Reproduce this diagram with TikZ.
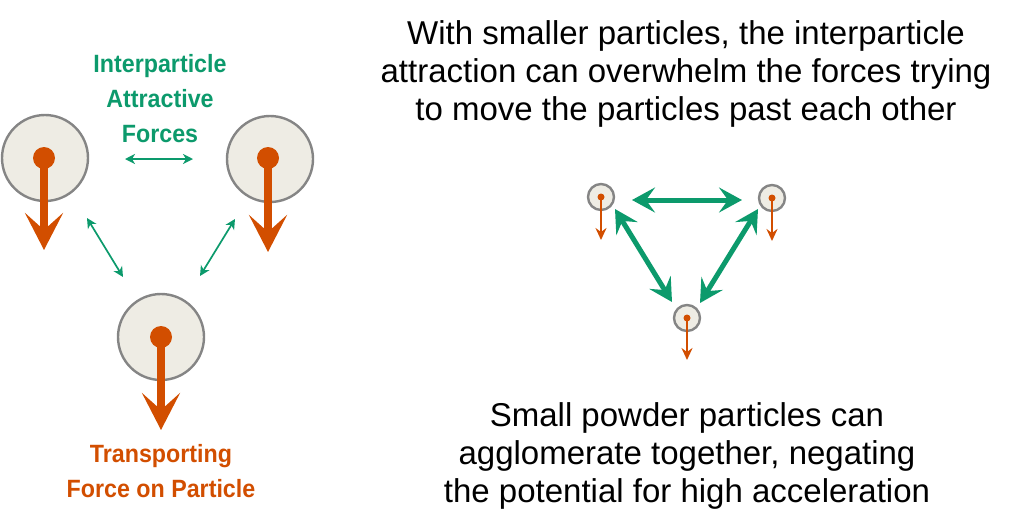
\documentclass[tikz,border=0pt]{standalone}
\usepackage{fontspec}
\usepackage{graphicx}
\setmainfont{Liberation Sans}
\usetikzlibrary{arrows.meta}
\definecolor{porange}{HTML}{D24E00}
\definecolor{pgreen}{HTML}{0C9A6C}
\definecolor{pgray}{HTML}{858585}
\definecolor{pfill}{HTML}{EEECE4}
\newcommand{\narrow}[1]{\scalebox{0.93}[1]{#1}}
\tikzset{
  bigpart/.style={circle, draw=pgray, line width=2.4pt, fill=pfill, minimum size=86pt, inner sep=0pt},
  smallpart/.style={circle, draw=pgray, line width=2.4pt, fill=pfill, minimum size=26pt, inner sep=0pt},
  bigforce/.style={draw=porange, line width=8pt, -{Stealth[length=37pt,width=38pt,inset=17pt]}},
  smallforce/.style={draw=porange, line width=2pt, -{Stealth[length=12pt,width=11pt,inset=4pt]}},
  thinpull/.style={draw=pgreen, line width=1.7pt, {Stealth[length=10pt,width=10pt,inset=3pt]}-{Stealth[length=10pt,width=10pt,inset=3pt]}},
  thickpull/.style={draw=pgreen, line width=5pt, {Stealth[length=23pt,width=25pt,inset=9pt]}-{Stealth[length=23pt,width=25pt,inset=9pt]}},
  label/.style={font=\bfseries\fontsize{25}{35}\selectfont, align=center, inner sep=0pt},
  caption/.style={font=\fontsize{33}{38}\selectfont, align=center, inner sep=0pt, text=black},
}
\begin{document}
\begin{tikzpicture}[x=1pt,y=-1pt]
\useasboundingbox (0,0) rectangle (1024,528);
% big particles
\node[bigpart] (b1) at (45,158) {};
\node[bigpart] (b2) at (270,159) {};
\node[bigpart] (b3) at (161,337) {};
\coordinate (bt1) at (44,250);
\coordinate (bt2) at (268,252);
\coordinate (bt3) at (161,430);
\draw[bigforce] (44,158) -- (bt1);
\draw[bigforce] (268,158) -- (bt2);
\draw[bigforce] (b3.center) -- (bt3);
\fill[porange] (44,158) circle (11);
\fill[porange] (268,158) circle (11);
\fill[porange] (b3.center) circle (11);
% thin green arrows
\coordinate (h1) at (125,159);
\coordinate (h2) at (193,159);
\coordinate (l1) at (87,218);
\coordinate (l2) at (123,277);
\coordinate (r1) at (235,219);
\coordinate (r2) at (200,276);
\draw[thinpull] (h1) -- (h2);
\draw[thinpull] (l1) -- (l2);
\draw[thinpull] (r1) -- (r2);
% labels
\node[label, text=pgreen] (glab) at (160,99) {\narrow{Interparticle}\\\narrow{Attractive}\\\narrow{Forces}};
\node[label, text=porange] (olab) at (161,471.5) {\narrow{Transporting}\\\narrow{Force on Particle}};
% small particles
\node[smallpart] (s1) at (601,197) {};
\node[smallpart] (s2) at (772,198) {};
\node[smallpart] (s3) at (687,318) {};
\coordinate (st1) at (601,240);
\coordinate (st2) at (772,241);
\coordinate (st3) at (687,360);
\draw[smallforce] (s1.center) -- (st1);
\draw[smallforce] (s2.center) -- (st2);
\draw[smallforce] (s3.center) -- (st3);
\fill[porange] (s1.center) circle (3.5);
\fill[porange] (s2.center) circle (3.5);
\fill[porange] (s3.center) circle (3.5);
% thick green arrows
\coordinate (th1) at (632,200);
\coordinate (th2) at (742,200);
\coordinate (tl1) at (615,209);
\coordinate (tl2) at (672,302);
\coordinate (tr1) at (758,209);
\coordinate (tr2) at (700,303);
\draw[thickpull] (th1) -- (th2);
\draw[thickpull] (tl1) -- (tl2);
\draw[thickpull] (tr1) -- (tr2);
% captions
\node[caption, anchor=north] (top) at (686,20) {With smaller particles, the interparticle\\attraction can overwhelm the forces trying\\to move the particles past each other};
\node[caption, anchor=north] (bot) at (687,402) {Small powder particles can\\agglomerate together, negating\\the potential for high acceleration};
\end{tikzpicture}
\end{document}
